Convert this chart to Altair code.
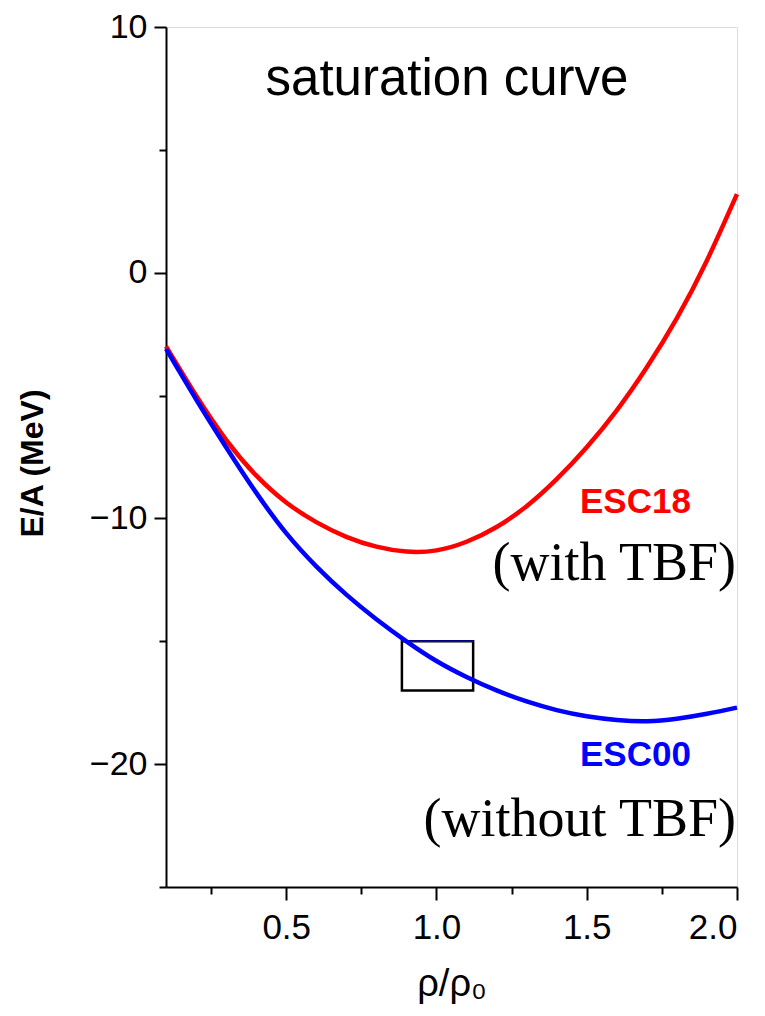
import altair as alt
import pandas as pd

# ---- data ----
rho = [0.1, 0.2, 0.3, 0.4, 0.5, 0.6, 0.7, 0.8, 0.9, 1.0,
       1.1, 1.2, 1.3, 1.4, 1.5, 1.6, 1.7, 1.8, 1.9, 2.0]
esc18 = [-3.0, -5.0, -6.8, -8.25, -9.35, -10.15, -10.75, -11.15, -11.35, -11.3,
         -10.95, -10.35, -9.5, -8.4, -7.1, -5.6, -3.85, -1.85, 0.5, 3.2]
esc00 = [-3.1, -5.15, -7.1, -8.95, -10.6, -11.95, -13.1, -14.1, -15.0, -15.8,
         -16.45, -17.0, -17.45, -17.8, -18.05, -18.2, -18.25, -18.15, -17.95, -17.7]

series_names = ["ESC18", "ESC00"]
series_colors = ["#ff0000", "#0000ff"]

x_ticks = [0.25, 0.5, 0.75, 1.0, 1.25, 1.5, 1.75, 2.0]
y_ticks = [10, 5, 0, -5, -10, -15, -20, -25]

box_x = [0.885]
box_x2 = [1.122]
box_y = [-15.0]
box_y2 = [-17.0]

# annotation texts (data coordinates)
ann_text = ["saturation curve", "ESC18", "(with TBF)", "ESC00", "(without TBF)"]
ann_x = [1.035, 1.662, 2.0, 1.662, 2.0]
ann_y = [7.23, -9.78, -12.5, -20.08, -22.93]

# ---- tables ----
df = pd.DataFrame({
    "rho": rho * 2,
    "ea": esc18 + esc00,
    "series": ["ESC18"] * len(rho) + ["ESC00"] * len(rho),
})
box_df = pd.DataFrame({"x": box_x, "x2": box_x2, "y": box_y, "y2": box_y2})
ann_df = pd.DataFrame({"t": ann_text, "x": ann_x, "y": ann_y})

xscale = alt.Scale(domain=[0.1, 2.0], nice=False, zero=False)
yscale = alt.Scale(domain=[-25, 10], nice=False, zero=False)

xmajor = "abs(datum.value*2 - round(datum.value*2)) < 0.001"
ymajor = "datum.value % 10 === 0"

x_axis = alt.Axis(
    values=x_ticks, format=".1f",
    labelExpr=f"{xmajor} ? datum.label : ''",
    tickSize={"condition": {"test": xmajor, "value": 13}, "value": 7},
    tickColor="black", tickWidth=2, domainColor="black", domainWidth=2,
    labelFont="Liberation Sans", labelFontSize=35, labelColor="black",
    labelPadding=10, labelOverlap=False, grid=False,
    title="ρ/ρ₀", titleFont="Liberation Sans", titleFontSize=38,
    titleFontWeight="normal", titleColor="black", titleY=108,
    titleBaseline="alphabetic",
)
y_axis = alt.Axis(
    values=y_ticks,
    labelExpr=f"{ymajor} ? datum.label : ''",
    tickSize={"condition": {"test": ymajor, "value": 12}, "value": 7},
    tickColor="black", tickWidth=2, domainColor="black", domainWidth=2,
    labelFont="Liberation Sans", labelFontSize=34, labelColor="black",
    labelPadding=7, labelOverlap=False, grid=False,
    title="E/A (MeV)", titleFont="Liberation Sans", titleFontSize=32,
    titleFontWeight="bold", titleColor="black", titleAngle=270,
    titleX=-124, titleY=436, titleAlign="center", titleBaseline="alphabetic",
)

box = alt.Chart(box_df).mark_rect(fill=None, filled=False, stroke="black", strokeWidth=2.5).encode(
    x=alt.X("x:Q", scale=xscale, axis=x_axis), x2="x2:Q",
    y=alt.Y("y:Q", scale=yscale, axis=y_axis), y2="y2:Q",
)
box_top = alt.Chart(box_df).mark_rule(color="#0000ff", strokeWidth=1.5).encode(
    x="x:Q", x2="x2:Q", y="y:Q",
)

lines = alt.Chart(df).mark_line(strokeWidth=4.5, interpolate="natural").encode(
    x=alt.X("rho:Q", scale=xscale),
    y=alt.Y("ea:Q", scale=yscale),
    color=alt.Color("series:N", scale=alt.Scale(domain=series_names, range=series_colors), legend=None),
    detail="series:N",
)

def ann(i, **kw):
    return alt.Chart(ann_df.iloc[[i]]).mark_text(**kw).encode(
        x="x:Q", y="y:Q", text="t:N"
    )

t_title = ann(0, font="Liberation Sans", fontSize=51, color="black", align="center", baseline="alphabetic")
t_esc18 = ann(1, font="Liberation Sans", fontSize=35, fontWeight="bold", color="#ff0000", align="center", baseline="alphabetic")
t_with = ann(2, font="Liberation Serif", fontSize=54, color="black", align="right", baseline="alphabetic", dx=-1)
t_esc00 = ann(3, font="Liberation Sans", fontSize=35, fontWeight="bold", color="#0000ff", align="center", baseline="alphabetic")
t_without = ann(4, font="Liberation Serif", fontSize=54, color="black", align="right", baseline="alphabetic", dx=-1)

chart = alt.layer(box, box_top, lines, t_title, t_esc18, t_with, t_esc00, t_without).properties(
    width=571, height=860,
    autosize=alt.AutoSizeParams(type="none"),
    padding={"left": 158, "top": 19, "right": 20, "bottom": 120},
).configure_view(stroke="#666666", strokeWidth=1.5).configure(background="white")

chart.save("out.html", embed_options={"renderer": "svg", "actions": False})
